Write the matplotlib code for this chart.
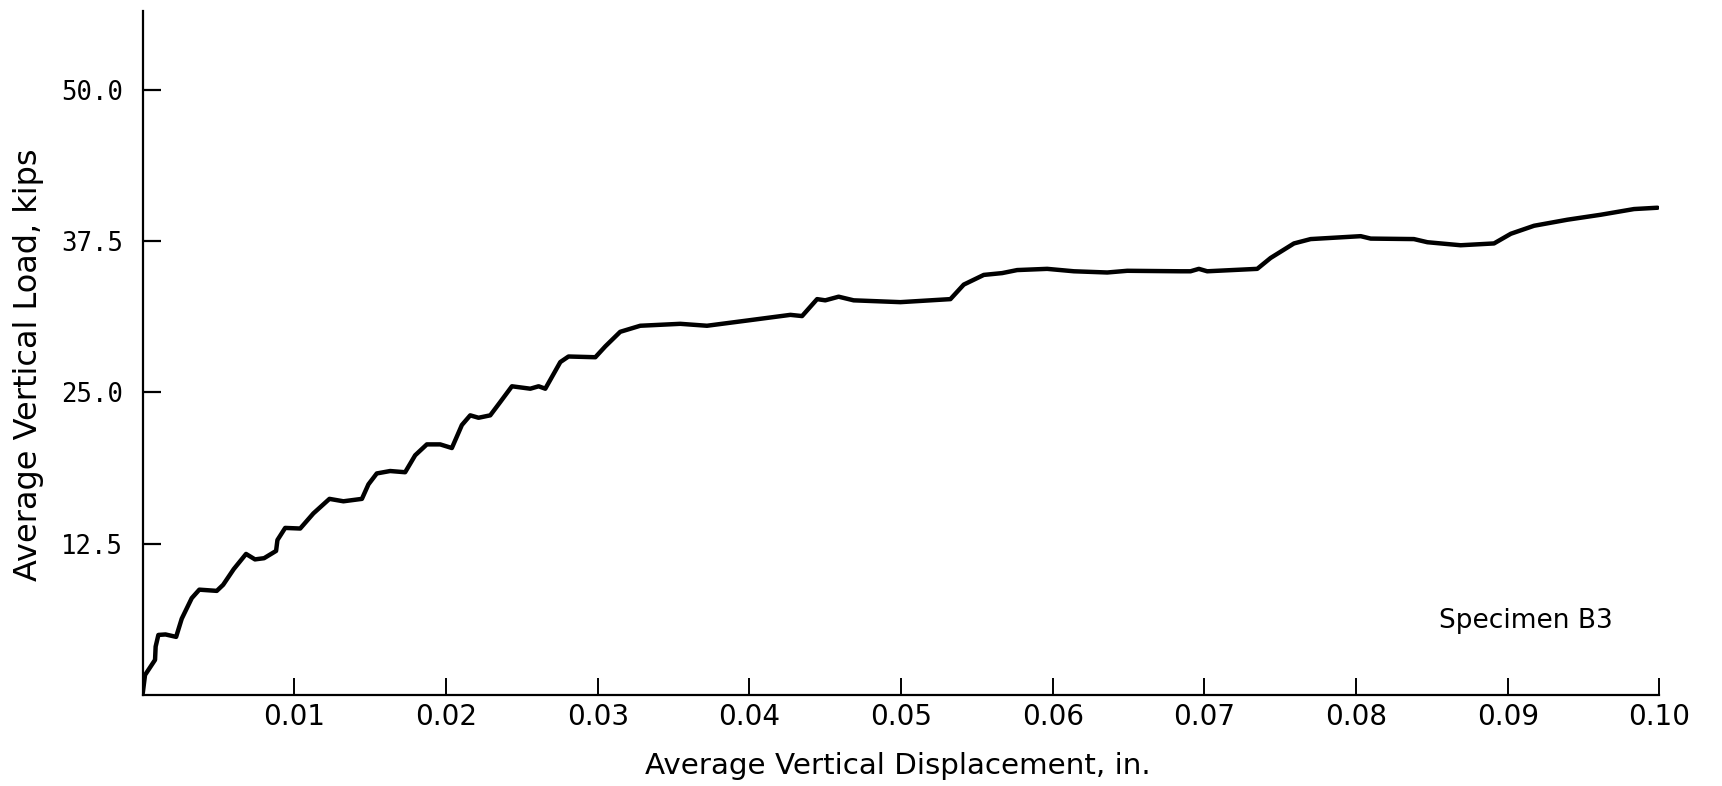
import matplotlib
matplotlib.use("Agg")
import matplotlib.pyplot as plt

# Load-displacement record for specimen B3
displacement_in = [
    0.0, 0.00015, 0.00081, 0.00085, 0.00103, 0.0015, 0.0022, 0.00257, 0.00323,
    0.00373, 0.00488, 0.0053, 0.0060, 0.00681, 0.0074, 0.0080, 0.00879, 0.00888,
    0.00939, 0.01038, 0.01125, 0.01231, 0.01323, 0.01445, 0.01488, 0.01543,
    0.01631, 0.0173, 0.01796, 0.01873, 0.01961, 0.02038, 0.02104, 0.02159,
    0.02214, 0.02291, 0.02357, 0.02434, 0.02555, 0.0261, 0.02654, 0.02753,
    0.02807, 0.02984, 0.0305, 0.03148, 0.0328, 0.03544, 0.0372, 0.03984,
    0.0427, 0.04347, 0.04446, 0.045, 0.04588, 0.04687, 0.04995, 0.05325,
    0.05413, 0.05545, 0.05666, 0.05765, 0.05963, 0.06139, 0.06359, 0.06491,
    0.06842, 0.06908, 0.06963, 0.07018, 0.07348, 0.07436, 0.0759, 0.077,
    0.0803, 0.08096, 0.08381, 0.0847, 0.08689, 0.08909, 0.0902, 0.09173,
    0.09393, 0.09613, 0.09832, 0.09987,
]
load_kips = [
    0.15, 1.65, 2.9, 4.0, 4.96, 5.0, 4.8, 6.3, 8.0,
    8.7, 8.6, 9.1, 10.4, 11.65, 11.2, 11.3, 11.9, 12.8,
    13.8, 13.75, 15.0, 16.2, 16.0, 16.2, 17.4, 18.3,
    18.5, 18.4, 19.8, 20.7, 20.7, 20.4, 22.3, 23.1,
    22.9, 23.1, 24.2, 25.5, 25.3, 25.5, 25.3, 27.5,
    27.96, 27.9, 28.8, 30.0, 30.5, 30.66, 30.5, 30.93,
    31.4, 31.3, 32.7, 32.6, 32.9, 32.6, 32.45, 32.7,
    33.9, 34.7, 34.85, 35.1, 35.2, 35.0, 34.9, 35.04,
    35.0, 35.0, 35.2, 35.0, 35.2, 36.1, 37.3, 37.66,
    37.9, 37.7, 37.66, 37.4, 37.15, 37.3, 38.1, 38.76,
    39.26, 39.67, 40.14, 40.25,
]

x_ticks = [0.01, 0.02, 0.03, 0.04, 0.05, 0.06, 0.07, 0.08, 0.09, 0.10]
x_tick_labels = ["0.01", "0.02", "0.03", "0.04", "0.05", "0.06", "0.07", "0.08", "0.09", "0.10"]
y_ticks = [12.5, 25.0, 37.5, 50.0]
y_tick_labels = ["12.5", "25.0", "37.5", "50.0"]

x_label = "Average Vertical Displacement, in."
y_label = "Average Vertical Load, kips"
specimen = "Specimen B3"

label_font = "DejaVu Sans"
mono_font = "DejaVu Sans Mono"

fig = plt.figure(figsize=(17.22, 7.86), dpi=100)
ax = fig.add_axes([0.0829, 0.1158, 0.8808, 0.8702])

ax.plot(displacement_in, load_kips, color="black", lw=3.2,
        solid_joinstyle="round", solid_capstyle="round")

ax.set_xlim(0, 0.1)
ax.set_ylim(0, 56.5)

for side in ("top", "right"):
    ax.spines[side].set_visible(False)
for side in ("left", "bottom"):
    ax.spines[side].set_linewidth(1.6)

ax.set_xticks(x_ticks)
ax.set_xticklabels(x_tick_labels, fontfamily=label_font, fontsize=20)
ax.set_yticks(y_ticks)
ax.set_yticklabels(y_tick_labels, fontfamily=mono_font, fontsize=18.5)
ax.tick_params(axis="x", direction="in", length=12, width=1.4, pad=6)
ax.tick_params(axis="y", direction="in", length=13, width=1.6, pad=14)

fig.text(0.5215, 0.026, x_label, ha="center", va="center",
         fontfamily=label_font, fontsize=21.2)
fig.text(0.0165, 0.5356, y_label, ha="center", va="center", rotation=90,
         fontfamily=label_font, fontsize=23)
ax.text(0.0912, 6.1, specimen, ha="center", va="center",
        fontfamily=label_font, fontsize=19)

fig.savefig("out.png", dpi=100, facecolor="white")
